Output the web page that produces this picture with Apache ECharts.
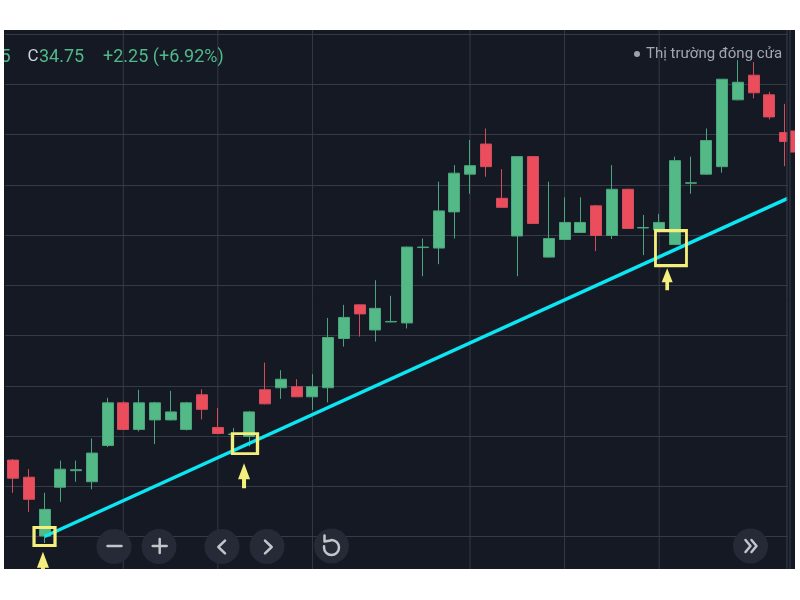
<!DOCTYPE html>
<html>
<head>
<meta charset="utf-8">
<script src="https://cdn.jsdelivr.net/npm/echarts@6/dist/echarts.min.js"></script>
<style>
html,body{margin:0;padding:0;background:#ffffff;}
#c{position:absolute;left:4px;top:30px;width:791px;height:539px;}
</style>
</head>
<body>
<div id="c"></div>
<script>
// ---------- data ----------
const categories = ['1','2','3','4','5','6','7','8','9','10','11','12','13','14','15','16','17','18','19','20',
  '21','22','23','24','25','26','27','28','29','30','31','32','33','34','35','36','37','38','39','40',
  '41','42','43','44','45','46','47','48','49','50'];
const opens  = [25.52,25.18,24.01,24.98,25.31,25.09,25.81,26.66,26.13,26.32,26.32,26.13,26.82,26.17,26.03,25.99,26.92,26.96,26.98,26.78,
  26.96,27.94,28.61,28.11,28.27,28.25,29.75,29.74,30.46,31.21,31.81,30.73,29.98,31.56,29.56,29.91,30.05,30.58,29.99,30.91,
  30.14,30.10,29.81,31.03,31.21,31.36,32.69,33.18,32.79,32.04];
const closes = [25.16,24.74,24.54,25.34,25.33,25.66,26.66,26.13,26.66,26.66,26.48,26.66,26.53,26.05,26.04,26.48,26.64,27.13,26.78,26.98,
  27.96,28.36,28.43,28.54,28.28,29.76,29.76,30.48,31.23,31.38,31.36,30.55,31.56,30.23,29.93,30.25,30.25,29.99,30.91,30.13,
  30.15,30.25,31.48,31.04,31.88,33.10,33.04,32.83,32.35,31.86];
const lows   = [24.87,24.49,23.87,24.69,25.09,24.94,25.78,26.12,26.09,25.84,26.31,26.11,26.33,26.04,25.92,25.79,26.63,26.74,26.78,26.52,
  26.67,27.78,27.98,27.88,28.26,28.14,29.18,29.42,29.93,30.82,31.16,30.55,29.18,30.22,29.55,29.91,30.05,29.68,29.92,30.13,
  29.60,30.08,29.80,30.82,31.20,31.24,32.68,32.72,32.30,31.37];
const highs  = [25.54,25.34,24.87,25.51,25.51,25.95,26.76,26.69,26.92,26.68,26.90,26.68,26.93,26.56,26.16,26.50,27.46,27.31,27.13,27.23,
  28.35,28.61,28.62,29.10,28.79,29.77,29.93,31.06,31.39,31.89,32.12,31.31,31.57,31.57,31.06,30.75,30.75,30.60,31.39,30.92,
  30.40,30.42,31.56,31.56,32.12,33.10,33.48,33.44,32.85,32.61];
const timeGridIdx = [7, 13, 19, 29, 35, 41];
const trendLine = [[2, 24.00], [49.16, 30.73]];
const boxPoints = [[2.00, 24.00], [14.72, 25.85], [41.75, 29.74]];
const arrowPoints = [[1.90, 23.45], [14.66, 25.21], [41.51, 29.12]];
const priceTicks = [24, 34, 1];           // min, max, step of price gridlines
const paneValueExtent = [23.35, 34.08];   // full pane height in price units
const headerLeft = '5';
const headerClose = '34.75';
const headerChange = '+2.25 (+6.92%)';
const statusText = 'Thị trường đóng cửa';

// ---------- styles ----------
const BG = '#151924', GRID = '#363a46';
const GREEN = '#53b987', RED = '#eb4d5c';
const CYAN = '#0ce6f2', YELLOW = '#f4ee7c';
const BTN = '#262a36', ICON = '#c3c5cb';
const boxSizes = [[21, 18], [25, 20], [31, 35]];
const arrowSizes = [[12, 25], [12, 25], [11, 22]];
const ARROW = 'path://M6,0L12,16L8,16L8,25L4,25L4,16L0,16Z';

const ohlc = opens.map((o, i) => [o, closes[i], lows[i], highs[i]]);

const chart = echarts.init(document.getElementById('c'), null, {renderer: 'canvas'});

function line(x1, y1, x2, y2, z) {
  return {type: 'line', z: z || 50, shape: {x1, y1, x2, y2},
    style: {stroke: ICON, lineWidth: 2.5, lineCap: 'round'}};
}
function poly(points, z) {
  return {type: 'polyline', z: z || 50, shape: {points},
    style: {stroke: ICON, lineWidth: 2.5, fill: null, lineCap: 'round', lineJoin: 'round'}};
}
function btn(cx, cy) {
  return {type: 'circle', z: 40, shape: {cx, cy, r: 17.5}, style: {fill: BTN}};
}

const graphics = [
  // price-scale strip at right
  {type: 'rect', z: 20, shape: {x: 783.5, y: 0, width: 8, height: 539}, style: {fill: BG}},
  {type: 'line', z: 30, shape: {x1: 783, y1: 0, x2: 783, y2: 539}, style: {stroke: '#3a3e4a', lineWidth: 1}},
  {type: 'line', z: 30, shape: {x1: 786, y1: 0, x2: 786, y2: 539}, style: {stroke: '#3a3e4a', lineWidth: 1}},
  // header
  {type: 'text', z: 60, style: {x: 6.7, y: 27, text: headerLeft, fill: '#50b98a', font: '18px Roboto', textAlign: 'right', textVerticalAlign: 'middle'}},
  {type: 'text', z: 60, style: {x: 23.5, y: 27, text: 'C', fill: '#d1d4dc', font: '17px Roboto', textAlign: 'left', textVerticalAlign: 'middle'}},
  {type: 'text', z: 60, style: {x: 35, y: 27, text: headerClose, fill: '#50b98a', font: '18px Roboto', textAlign: 'left', textVerticalAlign: 'middle'}},
  {type: 'text', z: 60, style: {x: 99, y: 27, text: headerChange, fill: '#50b98a', font: '18px Roboto', textAlign: 'left', textVerticalAlign: 'middle'}},
  {type: 'circle', z: 60, shape: {cx: 633, cy: 24, r: 3}, style: {fill: '#9ea1a9'}},
  {type: 'text', z: 60, style: {x: 642, y: 24.5, text: statusText, fill: '#a3a6af', font: '15px Roboto', textAlign: 'left', textVerticalAlign: 'middle'}},
  // buttons
  btn(110, 516.5), line(103.5, 516, 117.5, 516),
  btn(155, 516.5), line(148.7, 516, 162.7, 516), line(155.7, 509, 155.7, 523),
  btn(218, 516.5), poly([[221, 510.7], [214.3, 517], [221, 523.3]]),
  btn(263, 516.5), poly([[261, 510.7], [267.7, 517], [261, 523.3]]),
  btn(327.5, 516), {type: 'arc', z: 50, shape: {cx: 327.5, cy: 517.5, r: 7.5, startAngle: -Math.PI * 0.5, endAngle: Math.PI * 1.05, clockwise: true},
    style: {stroke: ICON, lineWidth: 2.5, fill: null, lineCap: 'round'}},
  poly([[320.5, 505.5], [320.5, 511.5], [326.5, 510.5]]),
  btn(746.5, 516), poly([[741.5, 510], [746.5, 516], [741.5, 522]]), poly([[747.5, 510], [752.5, 516], [747.5, 522]])
];

// vertical time gridlines, one thin line series each
const timeGridSeries = timeGridIdx.map(i => ({
  type: 'line', xAxisIndex: 1, data: [[i, paneValueExtent[0]], [i, paneValueExtent[1]]],
  symbol: 'none', clip: false, z: 1, silent: true,
  lineStyle: {color: GRID, width: 1}
}));

const option = {
  backgroundColor: BG,
  animation: false,
  grid: {left: 1.12, right: 1.88, top: 4, bottom: 32.5},
  xAxis: [
    {type: 'category', data: categories, boundaryGap: true, show: false},
    {type: 'value', min: -0.5, max: categories.length - 0.5, show: false}
  ],
  yAxis: {
    type: 'value', min: priceTicks[0], max: priceTicks[1], interval: priceTicks[2],
    axisLine: {show: false}, axisTick: {show: false}, axisLabel: {show: false},
    splitLine: {show: true, lineStyle: {color: GRID, width: 1}}
  },
  series: timeGridSeries.concat([
    {
      type: 'candlestick', xAxisIndex: 0, data: ohlc, barWidth: 11.5, clip: false, z: 2,
      itemStyle: {color: GREEN, color0: RED, borderColor: '#4aa47c', borderColor0: '#d04e5b', borderWidth: 1}
    },
    {
      type: 'line', xAxisIndex: 1, data: trendLine, symbol: 'none', clip: false, z: 3,
      lineStyle: {color: CYAN, width: 3.5}
    },
    {
      type: 'scatter', xAxisIndex: 1, clip: false, z: 4, symbol: 'rect',
      data: boxPoints.map((p, i) => ({value: p, symbolSize: boxSizes[i]})),
      itemStyle: {color: 'rgba(0,0,0,0)', borderColor: YELLOW, borderWidth: 3, opacity: 1}
    },
    {
      type: 'scatter', xAxisIndex: 1, clip: false, z: 4, symbol: ARROW, symbolKeepAspect: false,
      data: arrowPoints.map((p, i) => ({value: p, symbolSize: arrowSizes[i]})),
      itemStyle: {color: YELLOW, opacity: 1}
    },
    {
      type: 'scatter', xAxisIndex: 1, clip: false, z: 25, symbol: 'rect', symbolSize: [20, 22],
      data: [[49.94, closes[closes.length - 1]]],
      itemStyle: {color: RED, opacity: 1}
    }
  ]),
  graphic: graphics
};
chart.setOption(option);
</script>
</body>
</html>
